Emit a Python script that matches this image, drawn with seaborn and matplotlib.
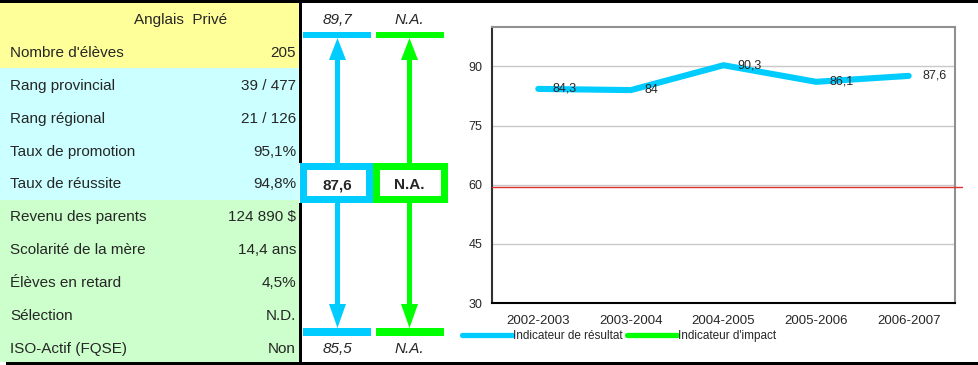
import matplotlib
matplotlib.use("Agg")
import matplotlib.pyplot as plt
from matplotlib.patches import Rectangle, FancyArrow
from matplotlib.lines import Line2D
import seaborn as sns
import pandas as pd

# ---------------- data ----------------
header = "Anglais  Privé"
row_labels = ["Nombre d'élèves", "Rang provincial", "Rang régional", "Taux de promotion",
              "Taux de réussite", "Revenu des parents", "Scolarité de la mère",
              "Élèves en retard", "Sélection", "ISO-Actif (FQSE)"]
row_values = ["205", "39 / 477", "21 / 126", "95,1%", "94,8%", "124 890 $",
              "14,4 ans", "4,5%", "N.D.", "Non"]

result_top = "89,7"
result_now = "87,6"
result_bottom = "85,5"
impact_top = "N.A."
impact_now = "N.A."
impact_bottom = "N.A."

years = ["2002-2003", "2003-2004", "2004-2005", "2005-2006", "2006-2007"]
resultat = [84.3, 84.0, 90.3, 86.1, 87.6]
threshold = 59.4
y_ticks = [30, 45, 60, 75, 90]
legend_labels = ["Indicateur de résultat", "Indicateur d'impact"]

# ---------------- style ----------------
sns.set_style("white")
plt.rcParams["font.family"] = ["Liberation Sans", "DejaVu Sans"]

CYAN = "#00CCFF"
GREEN = "#00FF00"
YELLOW_BG = "#FFFF99"
CYAN_BG = "#CCFFFF"
GREEN_BG = "#CCFFCC"
TFS = 11  # table font size

W, H = 979, 365
fig = plt.figure(figsize=(W / 100, H / 100), dpi=100)

# background axes in pixel coordinates
bg = fig.add_axes([0, 0, 1, 1])
bg.set_xlim(0, W)
bg.set_ylim(H, 0)
bg.axis("off")

# table backgrounds
bg.add_patch(Rectangle((0, 3), 299, 65, color=YELLOW_BG, lw=0))
bg.add_patch(Rectangle((0, 68), 299, 132, color=CYAN_BG, lw=0))
bg.add_patch(Rectangle((0, 200), 299, 162, color=GREEN_BG, lw=0))

# borders
bg.add_patch(Rectangle((0, 0), W, 3, color="black", lw=0))
bg.add_patch(Rectangle((6, 362), W - 6, 3, color="black", lw=0))
bg.add_patch(Rectangle((299, 3), 3, 160, color="black", lw=0))
bg.add_patch(Rectangle((299, 203), 3, 159, color="black", lw=0))

row_h = 32.9
y0 = 20
bg.text(181, y0, header, ha="center", va="center", fontsize=TFS)
for i, (lab, val) in enumerate(zip(row_labels, row_values)):
    yc = y0 + (i + 1) * row_h
    bg.text(10, yc, lab, ha="left", va="center", fontsize=TFS)
    bg.text(296, yc, val, ha="right", va="center", fontsize=TFS)

# indicator columns
cols = [(337.5, 303, 371, CYAN, result_top, result_now, result_bottom, 300, 373),
        (409.5, 376, 444, GREEN, impact_top, impact_now, impact_bottom, 373, 448)]
for xc, bx0, bx1, col, ttop, tnow, tbot, ox0, ox1 in cols:
    bg.add_patch(Rectangle((bx0, 32), bx1 - bx0, 6, color=col, lw=0))
    bg.add_patch(Rectangle((bx0, 328), bx1 - bx0, 8, color=col, lw=0))
    bg.add_patch(FancyArrow(xc, 163, 0, -125, width=5, head_width=17, head_length=22,
                            length_includes_head=True, color=col, lw=0))
    bg.add_patch(FancyArrow(xc, 203, 0, 125, width=5, head_width=17, head_length=24,
                            length_includes_head=True, color=col, lw=0))
    bg.add_patch(Rectangle((ox0, 163), ox1 - ox0, 40, color=col, lw=0))
    bg.add_patch(Rectangle((ox0 + 7, 170), ox1 - ox0 - 14, 26, color="white", lw=0))
    bg.text(xc, 20, ttop, ha="center", va="center", fontsize=TFS, style="italic")
    bg.text(xc, 185, tnow, ha="center", va="center", fontsize=TFS, weight="bold")
    bg.text(xc, 349, tbot, ha="center", va="center", fontsize=TFS, style="italic")

# ---------------- line chart ----------------
left, right, top, bottom = 492, 955, 27, 303
ax = fig.add_axes([left / W, 1 - bottom / H, (right - left) / W, (bottom - top) / H])
ax.set_facecolor("white")

df = pd.DataFrame({"year": years, "value": resultat})
sns.lineplot(data=df, x="year", y="value", ax=ax, color=CYAN, lw=4.4,
             solid_capstyle="round", sort=False, zorder=5)

ax.set_xlim(-0.5, 4.5)
ax.set_ylim(30, 100)
ax.set_yticks(y_ticks)
ax.yaxis.grid(True, color="#C8C8C8", lw=1)
ax.set_axisbelow(True)
ax.set_xlabel("")
ax.set_ylabel("")

ax.axhline(threshold, color="#E03030", lw=1, xmax=1.016, clip_on=False, zorder=3)

for i, v in enumerate(resultat):
    txt = f"{v:g}".replace(".", ",")
    ax.annotate(txt, (i, v), xytext=(10, 0), textcoords="offset points",
                ha="left", va="center", fontsize=9, zorder=6)

ax.set_xticks(range(len(years)))
ax.set_xticklabels(years, fontsize=9.5)
ax.set_xticks([i - 0.5 for i in range(len(years) + 1)], minor=True)
ax.tick_params(axis="x", which="major", length=0, pad=9)
ax.tick_params(axis="x", which="minor", length=4, width=1, color="black", direction="out")
ax.tick_params(axis="y", length=3, width=1, color="black", direction="out", labelsize=9, pad=4)
ax.tick_params(axis="x", bottom=True)

for side in ["top", "right"]:
    ax.spines[side].set_color("#909090")
    ax.spines[side].set_linewidth(1.5)
ax.spines["left"].set_color("#303030")
ax.spines["left"].set_linewidth(1.5)
ax.spines["bottom"].set_color("black")
ax.spines["bottom"].set_linewidth(1.5)

handles = [Line2D([0], [0], color=CYAN, lw=3.8, solid_capstyle="round"),
           Line2D([0], [0], color=GREEN, lw=3.8, solid_capstyle="round")]
fig.legend(handles, legend_labels, loc="center left",
           bbox_to_anchor=(462 / W, 1 - 336 / H), ncol=2, frameon=False,
           fontsize=8.5, handlelength=4.2, handletextpad=0.1, columnspacing=0.4,
           borderaxespad=0, borderpad=0)

fig.savefig("out.png", dpi=100)
